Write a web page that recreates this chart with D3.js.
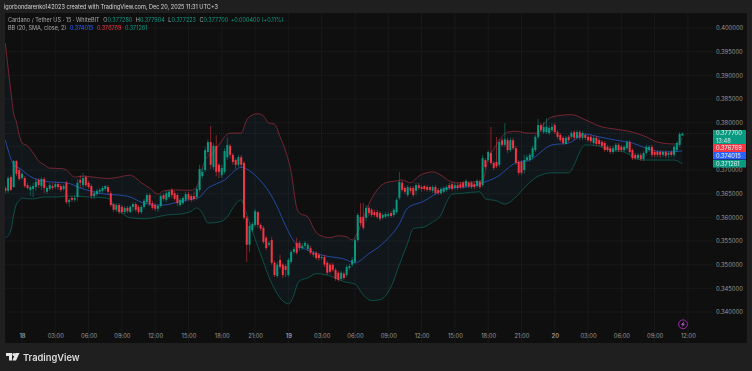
<!DOCTYPE html>
<html>
<head>
<meta charset="utf-8">
<script src="https://cdnjs.cloudflare.com/ajax/libs/d3/7.9.0/d3.min.js"></script>
<style>
html,body{margin:0;padding:0;background:#1f1f1f;overflow:hidden}
svg{display:block;font-family:Inter,"Liberation Sans",sans-serif;filter:blur(0.3px)}
</style>
</head>
<body>
<svg id="chart" width="752" height="371"></svg>
<script>
// 15 min candles, first bar = Dec 17 16:30
var opens=[.3662,.3656,.3685,.3664,.3719,.3700,.3683,.3683,.3668,.3658,
.3660,.3664,.3679,.3666,.3681,.3654,.3660,.3666,.3664,.3670,
.3666,.3660,.3673,.3632,.3641,.3637,.3643,.3679,.3668,.3685,
.3673,.3666,.3645,.3649,.3654,.3656,.3660,.3664,.3651,.3628,
.3616,.3626,.3622,.3611,.3620,.3611,.3622,.3628,.3622,.3611,
.3622,.3632,.3647,.3630,.3626,.3618,.3624,.3647,.3637,.3643,
.3658,.3651,.3647,.3626,.3630,.3637,.3649,.3645,.3645,.3643,
.3658,.3687,.3700,.3738,.3759,.3706,.3751,.3711,.3689,.3696,
.3727,.3751,.3732,.3721,.3711,.3727,.3715,.3599,.3542,.3573,
.3584,.3611,.3584,.3578,.3557,.3542,.3552,.3504,.3476,.3510,
.3500,.3497,.3478,.3506,.3527,.3546,.3546,.3535,.3540,.3533,
.3535,.3525,.3525,.3521,.3514,.3516,.3504,.3500,.3500,.3489,
.3483,.3470,.3481,.3478,.3493,.3500,.3506,.3552,.3601,.3601,
.3599,.3620,.3616,.3611,.3611,.3609,.3599,.3601,.3603,.3609,
.3605,.3611,.3641,.3673,.3662,.3647,.3662,.3662,.3656,.3668,
.3664,.3666,.3664,.3664,.3656,.3664,.3658,.3651,.3654,.3658,
.3668,.3670,.3662,.3668,.3670,.3673,.3666,.3673,.3673,.3670,
.3666,.3675,.3668,.3721,.3721,.3736,.3715,.3717,.3711,.3763,
.3753,.3763,.3742,.3763,.3746,.3717,.3717,.3700,.3721,.3721,
.3727,.3742,.3770,.3795,.3780,.3780,.3778,.3784,.3795,.3780,
.3774,.3768,.3755,.3770,.3770,.3780,.3768,.3780,.3768,.3774,
.3770,.3770,.3757,.3768,.3763,.3759,.3757,.3749,.3746,.3738,
.3742,.3753,.3749,.3742,.3746,.3759,.3742,.3732,.3725,.3732,
.3723,.3736,.3742,.3749,.3738,.3738,.3738,.3732,.3738,.3732,
.3738,.3732,.3742,.3753,.37728];
var highs=[.3666,.3687,.3689,.3721,.3721,.3704,.3696,.3687,.3673,.3668,
.3673,.3683,.3683,.3685,.3685,.3666,.3673,.3673,.3675,.3675,
.3670,.3670,.3677,.3641,.3645,.3647,.3681,.3689,.3694,.3689,
.3677,.3670,.3656,.3660,.3662,.3666,.3668,.3668,.3656,.3630,
.3630,.3630,.3626,.3624,.3624,.3626,.3632,.3632,.3626,.3626,
.3639,.3651,.3651,.3635,.3630,.3628,.3649,.3651,.3656,.3658,
.3662,.3656,.3651,.3641,.3645,.3654,.3654,.3649,.3654,.3666,
.3711,.3704,.3749,.3765,.3793,.3757,.3774,.3715,.3711,.3746,
.3768,.3755,.3736,.3725,.3732,.3732,.3719,.3603,.3590,.3590,
.3618,.3613,.3588,.3582,.3561,.3550,.3559,.3508,.3506,.3521,
.3504,.3502,.3514,.3531,.3538,.3557,.3550,.3546,.3550,.3546,
.3540,.3529,.3529,.3525,.3521,.3521,.3508,.3504,.3504,.3493,
.3487,.3487,.3485,.3500,.3502,.3516,.3557,.3609,.3630,.3630,
.3626,.3624,.3620,.3616,.3616,.3613,.3609,.3611,.3611,.3613,
.3620,.3641,.3696,.3677,.3666,.3668,.3666,.3666,.3673,.3673,
.3668,.3668,.3668,.3666,.3668,.3668,.3662,.3664,.3666,.3668,
.3673,.3675,.3673,.3673,.3675,.3677,.3681,.3677,.3677,.3675,
.3681,.3679,.3732,.3725,.3742,.3791,.3719,.3770,.3765,.3768,
.3799,.3768,.3768,.3768,.3751,.3721,.3721,.3732,.3732,.3736,
.3751,.3774,.3808,.3799,.3801,.3810,.3793,.3799,.3799,.3784,
.3778,.3772,.3772,.3774,.3782,.3784,.3784,.3784,.3782,.3778,
.3774,.3774,.3772,.3772,.3768,.3763,.3761,.3753,.3751,.3751,
.3757,.3757,.3753,.3753,.3763,.3763,.3746,.3736,.3736,.3736,
.3740,.3753,.3753,.3753,.3742,.3742,.3742,.3742,.3742,.3740,
.3742,.3753,.3761,.3780,.377904];
var lows=[.3651,.3651,.3656,.3662,.3687,.3677,.3679,.3662,.3658,.3645,
.3643,.3656,.3662,.3658,.3651,.3649,.3656,.3658,.3660,.3658,
.3654,.3656,.3628,.3622,.3632,.3632,.3635,.3662,.3662,.3664,
.3660,.3639,.3639,.3645,.3649,.3651,.3656,.3649,.3622,.3611,
.3611,.3607,.3607,.3607,.3609,.3609,.3613,.3611,.3607,.3607,
.3618,.3628,.3624,.3616,.3613,.3611,.3620,.3635,.3632,.3639,
.3641,.3635,.3624,.3622,.3626,.3632,.3635,.3632,.3635,.3637,
.3654,.3683,.3696,.3732,.3702,.3700,.3687,.3683,.3683,.3692,
.3721,.3725,.3711,.3702,.3706,.3704,.3595,.3506,.3527,.3569,
.3580,.3578,.3571,.3544,.3531,.3538,.3500,.3474,.3472,.3491,
.3472,.3474,.3474,.3502,.3523,.3521,.3529,.3531,.3535,.3529,
.3521,.3516,.3510,.3508,.3510,.3495,.3478,.3481,.3485,.3466,
.3464,.3466,.3468,.3474,.3489,.3495,.3502,.3548,.3584,.3573,
.3592,.3603,.3601,.3601,.3597,.3592,.3595,.3597,.3599,.3599,
.3601,.3607,.3637,.3654,.3649,.3643,.3651,.3643,.3647,.3658,
.3654,.3656,.3654,.3654,.3651,.3647,.3647,.3647,.3651,.3654,
.3658,.3656,.3658,.3658,.3660,.3660,.3662,.3662,.3660,.3660,
.3662,.3660,.3664,.3702,.3717,.3711,.3700,.3704,.3706,.3749,
.3749,.3736,.3738,.3742,.3711,.3689,.3689,.3692,.3717,.3717,
.3723,.3738,.3765,.3780,.3776,.3776,.3774,.3780,.3776,.3765,
.3759,.3753,.3753,.3759,.3765,.3763,.3765,.3763,.3763,.3763,
.3759,.3757,.3753,.3751,.3751,.3746,.3738,.3738,.3734,.3734,
.3738,.3738,.3738,.3738,.3742,.3734,.3721,.3721,.3721,.3719,
.3719,.3732,.3738,.3727,.3727,.3727,.3725,.3727,.3725,.3725,
.3727,.3727,.3738,.3749,.377223];
var closes=[.3656,.3683,.3658,.3719,.3692,.3681,.3692,.3666,.3662,.3664,
.3666,.3675,.3668,.3681,.3662,.3662,.3668,.3662,.3670,.3664,
.3658,.3666,.3632,.3637,.3637,.3641,.3673,.3673,.3683,.3668,
.3664,.3645,.3651,.3656,.3658,.3662,.3666,.3654,.3626,.3616,
.3626,.3611,.3611,.3620,.3613,.3622,.3628,.3616,.3611,.3622,
.3635,.3647,.3628,.3620,.3618,.3624,.3645,.3639,.3651,.3654,
.3647,.3639,.3630,.3637,.3641,.3649,.3639,.3637,.3639,.3660,
.3702,.3696,.3742,.3759,.3711,.3751,.3696,.3696,.3704,.3740,
.3753,.3732,.3717,.3711,.3727,.3711,.3599,.3542,.3582,.3586,
.3613,.3584,.3576,.3548,.3535,.3546,.3504,.3478,.3500,.3495,
.3478,.3489,.3510,.3527,.3533,.3525,.3535,.3540,.3546,.3542,
.3525,.3521,.3514,.3514,.3516,.3500,.3483,.3485,.3489,.3470,
.3468,.3483,.3472,.3495,.3497,.3510,.3552,.3605,.3588,.3578,
.3620,.3609,.3605,.3605,.3601,.3597,.3605,.3607,.3607,.3603,
.3616,.3637,.3675,.3658,.3654,.3664,.3656,.3647,.3668,.3662,
.3660,.3660,.3658,.3658,.3664,.3651,.3651,.3660,.3662,.3664,
.3662,.3660,.3668,.3662,.3664,.3664,.3677,.3666,.3664,.3664,
.3677,.3664,.3725,.3706,.3738,.3715,.3704,.3708,.3759,.3753,
.3765,.3742,.3763,.3746,.3715,.3694,.3694,.3721,.3727,.3732,
.3746,.3770,.3795,.3784,.3791,.3791,.3789,.3791,.3780,.3770,
.3763,.3757,.3768,.3763,.3778,.3768,.3780,.3768,.3778,.3768,
.3763,.3761,.3768,.3755,.3755,.3751,.3742,.3742,.3738,.3746,
.3753,.3742,.3742,.3749,.3759,.3738,.3725,.3725,.3732,.3723,
.3736,.3749,.3749,.3732,.3732,.3732,.3732,.3738,.3730,.3736,
.3732,.3749,.3757,.3776,.3777];

// bollinger bands, read at the bars where the curve bends
var upperBars=[0,1,2,3,4,5,6,8,10,12,14,16,20,22,25,28,33,37,40,45,47,49,52,55,57,61,67,69,71,72,75,77,79,81,85,87,89,91,93,95,97,99,101,103,105,106,109,111,113,117,120,123,125,127,129,131,134,137,141,143,146,149,154,157,160,163,172,174,176,178,181,184,188,192,194,197,204,209,215,219,226,231,235,241,243,244];
var upperVals=[.3968,.3915,.3865,.3820,.3801,.3774,.3757,.3751,.3736,.3719,.3711,.3704,.3703,.3700,.3685,.3687,.3684,.3682,.3684,.3689,.3683,.3673,.3662,.3649,.3656,.3658,.3657,.3664,.3704,.3721,.3738,.3753,.3770,.3778,.3778,.3806,.3816,.3819,.3814,.3799,.3797,.3770,.3740,.3696,.3620,.3609,.3601,.3578,.3563,.3557,.3561,.3559,.3552,.3569,.3599,.3628,.3658,.3673,.3677,.3679,.3673,.3687,.3696,.3689,.3677,.3673,.3677,.3725,.3744,.3763,.3780,.3782,.3778,.3778,.3797,.3812,.3817,.3806,.3791,.3787,.3780,.3770,.3759,.3755,.3759,.376769];
var basisBars=[0,1,3,5,10,16,22,27,36,41,45,49,54,57,62,66,70,73,75,79,84,85,87,91,95,98,101,105,108,115,122,126,131,137,142,145,150,160,166,172,177,184,189,197,203,209,214,220,226,231,237,244];
var basisVals=[.3763,.3742,.3711,.3704,.3683,.3675,.3673,.3662,.3649,.3647,.3643,.3632,.3626,.3626,.3632,.3637,.3643,.3662,.3668,.3679,.3704,.3706,.3702,.3683,.3654,.3622,.3582,.3542,.3533,.3519,.3512,.3504,.3523,.3550,.3586,.3620,.3632,.3662,.3664,.3673,.3685,.3715,.3721,.3753,.3757,.3776,.3770,.3763,.3757,.3746,.3738,.374015];
var lowerBars=[0,1,2,3,4,5,6,8,10,14,19,22,30,36,38,39,42,45,50,55,58,63,67,69,71,73,77,80,82,85,86,88,91,93,95,97,99,101,102,104,105,106,109,112,116,118,122,126,129,132,135,139,142,145,147,151,154,157,159,161,165,171,172,173,177,180,184,187,190,192,197,203,205,207,209,215,218,223,227,230,241,244];
var lowerVals=[.3557,.3561,.3573,.3605,.3628,.3635,.3641,.3639,.3639,.3643,.3643,.3645,.3643,.3641,.3637,.3622,.3609,.3599,.3597,.3601,.3605,.3607,.3613,.3620,.3609,.3588,.3590,.3601,.3620,.3637,.3624,.3588,.3538,.3506,.3474,.3449,.3430,.3419,.3417,.3436,.3455,.3466,.3472,.3481,.3478,.3474,.3464,.3459,.3436,.3424,.3426,.3453,.3500,.3546,.3576,.3580,.3590,.3605,.3632,.3649,.3651,.3654,.3647,.3639,.3635,.3628,.3643,.3662,.3679,.3687,.3694,.3694,.3711,.3738,.3753,.3749,.3742,.3738,.3725,.3721,.3721,.371261];

// price and time axis
var priceTicks=[.34,.345,.35,.355,.36,.365,.37,.375,.38,.385,.39,.395,.4];
var tickBars=[6,18,30,42,54,66,78,90,102,114,126,138,150,162,174,186,198,210,222,234,246];
var tickLabels=["18","03:00","06:00","09:00","12:00","15:00","18:00","21:00","19","03:00","06:00","09:00","12:00","15:00","18:00","21:00","20","03:00","06:00","09:00","12:00"];
var dayLabels=["18","19","20"];

// last values shown on the price scale
var legendOHLC=[["O","0.377280"],["H","0.377904"],["L","0.377223"],["C","0.377700"]];
var priceTags=[
    {label:"0.377700",sub:"13:48",color:"#089981"},
    {label:"0.376769",color:"#f23645"},
    {label:"0.374015",color:"#2962ff"},
    {label:"0.371261",color:"#089981"}
];

var up="#089981", down="#f23645";

var svg=d3.select("#chart");
var paneLeft=5, paneRight=747, paneTop=13, paneBottom=343;

var x=d3.scaleLinear().domain([0,244]).range([5.35,682.4]);
var y=d3.scaleLinear().domain([.34,.4]).range([312,28]);

svg.append("defs").append("clipPath").attr("id","pane")
    .append("rect").attr("x",paneLeft).attr("y",paneTop).attr("width",paneRight-paneLeft).attr("height",paneBottom-paneTop);

svg.append("rect").attr("x",paneLeft).attr("y",paneTop).attr("width",paneRight-paneLeft).attr("height",paneBottom-paneTop).style("fill","#0f0f0f");

//grid
var grid=svg.append("g").attr("clip-path","url(#pane)");
grid.selectAll(".gx").data(tickBars).enter().append("line")
    .attr("x1",function(d){return x(d);}).attr("x2",function(d){return x(d);})
    .attr("y1",paneTop).attr("y2",paneBottom)
    .style("stroke","#1c1c1c").style("stroke-width",0.7);
grid.selectAll(".gy").data(priceTicks).enter().append("line")
    .attr("x1",paneLeft).attr("x2",713)
    .attr("y1",function(d){return y(d);}).attr("y2",function(d){return y(d);})
    .style("stroke","#1c1c1c").style("stroke-width",0.7);

//bands
var plot=svg.append("g").attr("clip-path","url(#pane)");

function bandPoints(bars,vals){
    return bars.map(function(b,i){return [b,vals[i]];});
}
var upperPts=bandPoints(upperBars,upperVals);
var basisPts=bandPoints(basisBars,basisVals);
var lowerPts=bandPoints(lowerBars,lowerVals);

var bandLine=d3.line()
    .x(function(d){return x(d[0]);})
    .y(function(d){return y(d[1]);})
    .curve(d3.curveMonotoneX);

// fill: upper curve forward, lower curve back
var fillPath=bandLine(upperPts)+"L"+bandLine(lowerPts.slice().reverse()).slice(1);
plot.append("path").attr("d",fillPath).style("fill","#2196f3").style("fill-opacity",0.05);

plot.append("path").attr("d",bandLine(upperPts)).style("fill","none").style("stroke","#8f2a38").style("stroke-width",0.8);
plot.append("path").attr("d",bandLine(lowerPts)).style("fill","none").style("stroke","#0d5f52").style("stroke-width",0.8);
plot.append("path").attr("d",bandLine(basisPts)).style("fill","none").style("stroke","#2a55c4").style("stroke-width",0.8);

//last price line
plot.append("line").attr("x1",paneLeft).attr("x2",713).attr("y1",y(.3777)).attr("y2",y(.3777))
    .style("stroke",up).style("stroke-opacity",0.4).style("stroke-width",0.6).style("stroke-dasharray","1 1");

//candles
var barW=x(1)-x(0);
var bars=d3.range(opens.length);
function candleColor(i){return closes[i]>=opens[i]?up:down;}

plot.selectAll(".wick").data(bars).enter().append("line")
    .attr("class","wick")
    .attr("x1",function(i){return x(i);}).attr("x2",function(i){return x(i);})
    .attr("y1",function(i){return y(highs[i]);}).attr("y2",function(i){return y(lows[i]);})
    .style("stroke",candleColor).style("stroke-width",0.8).style("stroke-opacity",0.65);

plot.selectAll(".body").data(bars).enter().append("rect")
    .attr("class","body")
    .attr("x",function(i){return x(i)-barW*0.36;})
    .attr("width",barW*0.72)
    .attr("y",function(i){return y(Math.max(opens[i],closes[i]));})
    .attr("height",function(i){return Math.max(0.8,Math.abs(y(opens[i])-y(closes[i])));})
    .style("fill",candleColor);

//axes
var xAxis=d3.axisBottom(x).tickValues(tickBars).tickSize(0)
    .tickFormat(function(d){return tickLabels[tickBars.indexOf(d)];});
var xg=svg.append("g").attr("transform","translate(0,330)").call(xAxis);
xg.select(".domain").remove();
xg.selectAll("text").attr("y",4).style("font-family","Inter").style("font-size","5.8px").style("fill","#9a9a9a")
    .style("font-weight",function(d){return dayLabels.indexOf(tickLabels[tickBars.indexOf(d)])>=0?600:400;});

var yAxis=d3.axisRight(y).tickValues(priceTicks).tickSize(0).tickFormat(d3.format(".6f"));
var yg=svg.append("g").attr("transform","translate(716,0)").call(yAxis);
yg.select(".domain").remove();
yg.selectAll("text").attr("x",0).style("font-family","Inter").style("font-size","5.8px").style("fill","#9a9a9a");

//price tags, stacked so they don't overlap
var tagTop=[130,144,152,160], tagH=[14,8,7.5,7.5];
var tags=svg.append("g");
priceTags.forEach(function(t,i){
    tags.append("rect").attr("x",713).attr("y",tagTop[i]).attr("width",33).attr("height",tagH[i]).style("fill",t.color);
    tags.append("text").attr("x",716).attr("y",tagTop[i]+(t.sub?5.4:5.9)).text(t.label)
        .style("font-size","5.8px").style("fill","#e8f0ee");
    if(t.sub){
        tags.append("text").attr("x",716).attr("y",tagTop[i]+12.6).text(t.sub)
            .style("font-size","5.8px").style("fill","#d5e6e2");
    }
});

//header
svg.append("text").attr("x",4).attr("y",9.2)
    .text("igorbondarenko142023 created with TradingView.com, Dec 20, 2025 11:31 UTC+3")
    .style("font-size","5.56px").style("fill","#d8d8d8");

var legend=svg.append("text").attr("x",8).attr("y",21.6).style("font-size","5.5px").style("fill","#a8a8a8");
legend.append("tspan").text("Cardano / Tether US · 15 · WhiteBIT");
legendOHLC.forEach(function(p,i){
    legend.append("tspan").attr("dx",i==0?4:3.5).text(p[0]);
    legend.append("tspan").text(p[1]).style("fill",up);
});
legend.append("tspan").attr("dx",2.5).text("+0.000400 (+0.11%)").style("fill",up);

var bb=svg.append("text").attr("x",8).attr("y",29.8).style("font-size","5.5px").style("fill","#a8a8a8");
bb.append("tspan").text("BB (20, SMA, close, 2)");
bb.append("tspan").attr("dx",3.5).text("0.374015").style("fill","#2962ff");
bb.append("tspan").attr("dx",3.5).text("0.376769").style("fill",down);
bb.append("tspan").attr("dx",3.5).text("0.371261").style("fill",up);

//footer logo
var logo=svg.append("g").attr("transform","translate(6,353)").style("fill","#e6e6e6");
logo.append("path").attr("d","M0 0H6V7.5H3V3H0Z");
logo.append("circle").attr("cx",7.9).attr("cy",1.5).attr("r",1.5);
logo.append("path").attr("d","M9.5 0H13.5L10 7.5H6.4Z");
svg.append("text").attr("x",23).attr("y",360.5).text("TradingView")
    .style("font-size","9.3px").style("font-weight",600).style("fill","#dcdcdc");

//lightning marker
var mark=svg.append("g").attr("transform","translate(683,324.3)");
mark.append("circle").attr("r",4.4).style("fill","none").style("stroke","#9c27b0").style("stroke-width",1);
mark.append("path").attr("d","M1.2 -3L-2 0.5H-0.2L-1.2 3L2 -0.6H0.2Z").style("fill","#c060d8");
</script>
</body>
</html>
